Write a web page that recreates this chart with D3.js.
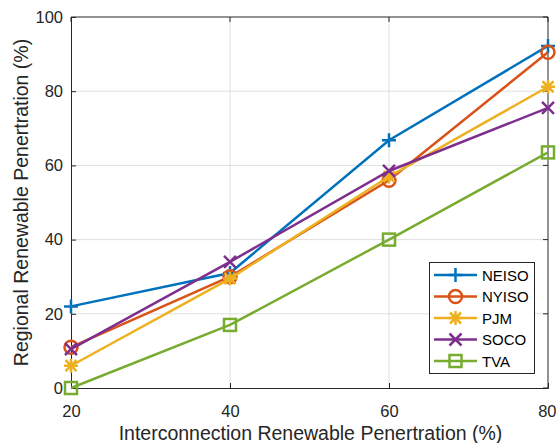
<!DOCTYPE html>
<html><head><meta charset="utf-8">
<script src="https://cdn.jsdelivr.net/npm/d3@7"></script>
<style>body{margin:0;background:#fff}svg{display:block;font-family:"Liberation Sans",Arial,sans-serif}</style>
</head><body><svg id="c" width="556" height="443"></svg>
<script>
const xValues = [20, 40, 60, 80];
const seriesNames = ["NEISO", "NYISO", "PJM", "SOCO", "TVA"];
const neiso = [22, 31, 66.8, 92.2];
const nyiso = [11, 30, 56, 90.5];
const pjm = [6, 29.5, 57, 81.2];
const soco = [10.5, 34, 58.5, 75.5];
const tva = [0, 17, 40, 63.5];
const xTicks = [20, 40, 60, 80];
const yTicks = [0, 20, 40, 60, 80, 100];
const colors = ["#0072BD", "#D95319", "#EDB120", "#7E2F8E", "#77AC30"];
const markers = ["plus", "circle", "star", "cross", "square"];
const seriesValues = [neiso, nyiso, pjm, soco, tva];

const svg = d3.select("#c");
const L = 71, R = 548, T = 17, B = 388;
const x = d3.scaleLinear().domain([20, 80]).range([L, R]);
const y = d3.scaleLinear().domain([0, 100]).range([B, T]);

// grid
svg.append("g").selectAll("line").data(yTicks.slice(1, -1)).join("line")
  .attr("x1", L).attr("x2", R).attr("y1", d => y(d)).attr("y2", d => y(d))
  .attr("stroke", "#dfdfdf").attr("stroke-width", 1);
svg.append("g").selectAll("line").data(xTicks.slice(1, -1)).join("line")
  .attr("y1", T).attr("y2", B).attr("x1", d => x(d)).attr("x2", d => x(d))
  .attr("stroke", "#dfdfdf").attr("stroke-width", 1);

// axes
const xa = svg.append("g").attr("transform", `translate(0,${B})`)
  .call(d3.axisBottom(x).tickValues(xTicks).tickSize(-5).tickPadding(17));
const ya = svg.append("g").attr("transform", `translate(${L},0)`)
  .call(d3.axisLeft(y).tickValues(yTicks).tickSize(-5).tickPadding(8));
[xa, ya].forEach(a => {
  a.select(".domain").attr("stroke", "#262626");
  a.selectAll("line").attr("stroke", "#262626");
  a.selectAll("text").attr("font-size", 16.5).attr("fill", "#262626").attr("font-family", "Liberation Sans, Arial, sans-serif");
});
xa.selectAll(".tick text").filter(d => d === 80).attr("text-anchor", "end").attr("dx", 8);
// top and right border
svg.append("line").attr("x1", L).attr("x2", R).attr("y1", T).attr("y2", T).attr("stroke", "#262626");
svg.append("line").attr("x1", R).attr("x2", R).attr("y1", T).attr("y2", B).attr("stroke", "#262626");
// right & top ticks
svg.append("g").selectAll("line").data(yTicks).join("line")
  .attr("x1", R).attr("x2", R - 5).attr("y1", d => y(d)).attr("y2", d => y(d)).attr("stroke", "#262626");
svg.append("g").selectAll("line").data(xTicks).join("line")
  .attr("y1", T).attr("y2", T + 5).attr("x1", d => x(d)).attr("x2", d => x(d)).attr("stroke", "#262626");

// labels
svg.append("text").attr("x", (L + R) / 2 + 1).attr("y", 440).attr("text-anchor", "middle")
  .attr("font-size", 19.5).attr("fill", "#262626").text("Interconnection Renewable Penertration (%)");
svg.append("text").attr("transform", `translate(28,${(T + B) / 2}) rotate(-90)`).attr("text-anchor", "middle")
  .attr("font-size", 19.5).attr("fill", "#262626").text("Regional Renewable Penertration (%)");

function marker(g, type, cx, cy, color) {
  const s = 7;
  if (type === "plus") {
    g.append("path").attr("d", `M${cx - s},${cy}H${cx + s}M${cx},${cy - s}V${cy + s}`).attr("stroke", color).attr("stroke-width", 2.5).attr("fill", "none");
  } else if (type === "circle") {
    g.append("circle").attr("cx", cx).attr("cy", cy).attr("r", 6.5).attr("stroke", color).attr("stroke-width", 2.5).attr("fill", "none");
  } else if (type === "star") {
    const a = 5.5;
    g.append("path").attr("d", `M${cx - s},${cy}H${cx + s}M${cx},${cy - s}V${cy + s}M${cx - a},${cy - a}L${cx + a},${cy + a}M${cx - a},${cy + a}L${cx + a},${cy - a}`).attr("stroke", color).attr("stroke-width", 2.5).attr("fill", "none");
  } else if (type === "cross") {
    const a = 6;
    g.append("path").attr("d", `M${cx - a},${cy - a}L${cx + a},${cy + a}M${cx - a},${cy + a}L${cx + a},${cy - a}`).attr("stroke", color).attr("stroke-width", 2.5).attr("fill", "none");
  } else if (type === "square") {
    g.append("rect").attr("x", cx - 6).attr("y", cy - 6).attr("width", 12).attr("height", 12).attr("stroke", color).attr("stroke-width", 2.5).attr("fill", "none");
  }
}

const line = d3.line().x((d, i) => x(xValues[i])).y(d => y(d));
seriesValues.forEach((vals, si) => {
  const g = svg.append("g");
  g.append("path").attr("d", line(vals)).attr("fill", "none").attr("stroke", colors[si]).attr("stroke-width", 2.5);
  vals.forEach((v, i) => marker(g, markers[si], x(xValues[i]), y(v), colors[si]));
});

// legend
const lg = svg.append("g");
lg.append("rect").attr("x", 429.5).attr("y", 262.5).attr("width", 105).attr("height", 111)
  .attr("fill", "#fff").attr("stroke", "#262626").attr("stroke-width", 1);
seriesNames.forEach((n, i) => {
  const yy = 275 + i * 21.5;
  lg.append("line").attr("x1", 434).attr("x2", 477).attr("y1", yy).attr("y2", yy).attr("stroke", colors[i]).attr("stroke-width", 2.5);
  marker(lg, markers[i], 455.5, yy, colors[i]);
  lg.append("text").attr("x", 482).attr("y", yy + 5.5).attr("font-size", 15).attr("fill", "#000").text(n);
});
</script></body></html>
